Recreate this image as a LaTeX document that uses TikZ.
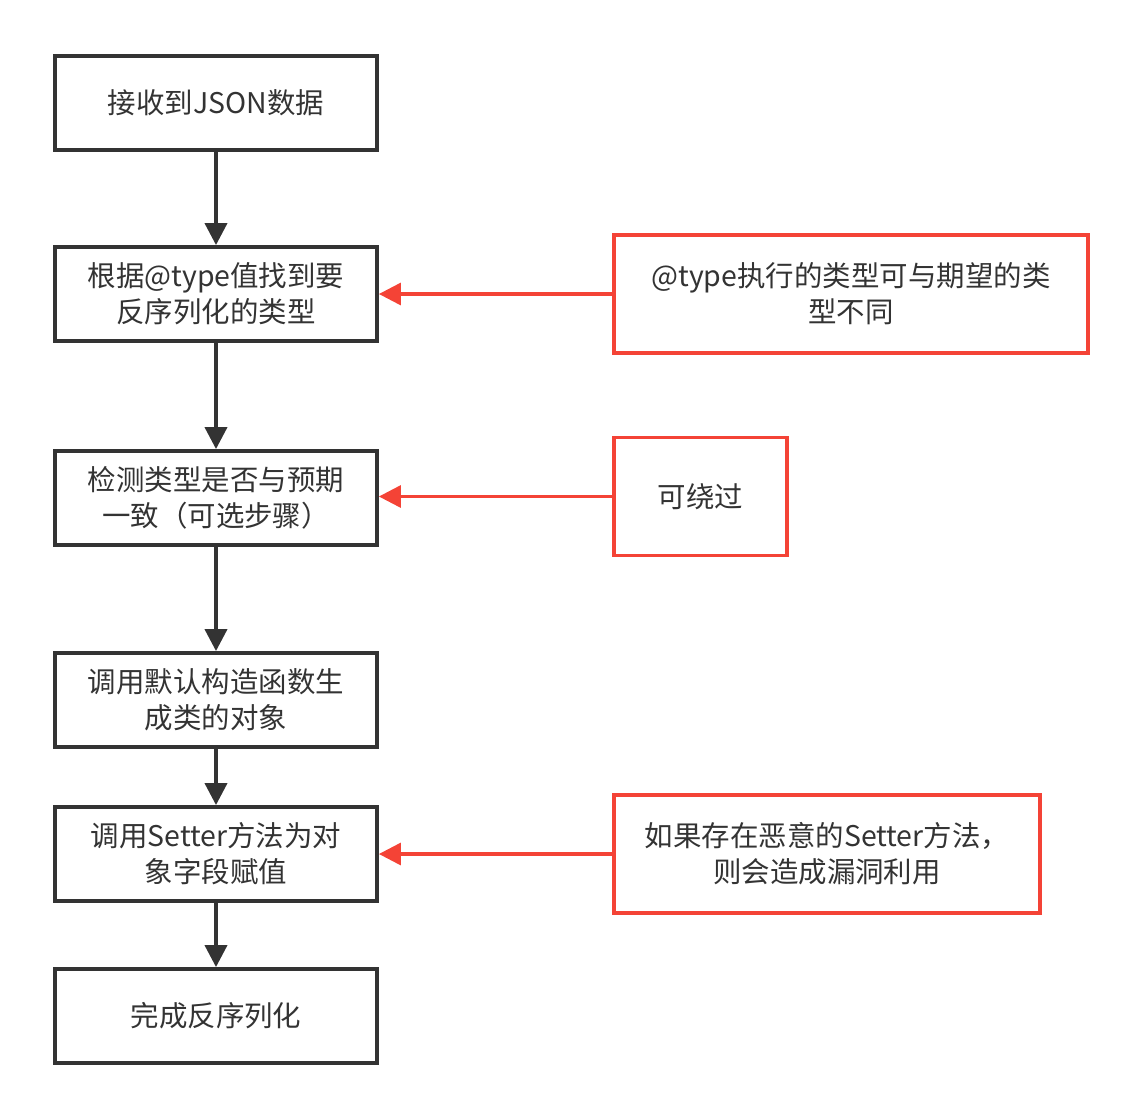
\documentclass[tikz,border=0pt]{standalone}
\usepackage{fontspec}
\setmainfont{Noto Sans CJK SC}
\usetikzlibrary{arrows.meta}
\definecolor{flowGray}{HTML}{333333}
\definecolor{flowRed}{HTML}{F44336}

\begin{document}
\begin{tikzpicture}[x=0.02cm, y=-0.02cm,
    every node/.style={font=\fontsize{16.2}{20.5}\selectfont, text=flowGray, align=center},
    stepbox/.style={draw=flowGray, line width=2.2pt, minimum width=6.44cm, minimum height=1.88cm, inner sep=0pt},
    notebox/.style={draw=flowRed, line width=1.8pt, minimum height=2.36cm, inner sep=0pt},
    flow/.style={draw=flowGray, line width=2.2pt, -{Triangle[length=0.44cm, width=0.44cm]}},
    hint/.style={draw=flowRed, line width=1.8pt, -{Triangle[length=0.44cm, width=0.44cm]}}]
            \useasboundingbox (0,0) rectangle (1144,1120);
            % main steps
            \node[stepbox] (recv) at (216,103) {接收到JSON数据};
            \node[stepbox] (lookup) at (216,294) {根据@type值找到要\\反序列化的类型};
            \node[stepbox] (check) at (216,498) {检测类型是否与预期\\一致（可选步骤）};
            \node[stepbox] (ctor) at (216,700) {调用默认构造函数生\\成类的对象};
            \node[stepbox] (setter) at (216,854) {调用Setter方法为对\\象字段赋值};
            \node[stepbox] (done) at (216,1016) {完成反序列化};
            % remarks
            \node[notebox, minimum width=9.48cm] (diff) at (851,294) {@type执行的类型可与期望的类\\型不同};
            \node[notebox, minimum width=3.46cm] (skip) at (700.5,496.5) {可绕过};
            \node[notebox, minimum width=8.52cm] (evil) at (827,854) {如果存在恶意的Setter方法，\\则会造成漏洞利用};
            \draw[flow] (recv) -- (lookup);
            \draw[flow] (lookup) -- (check);
            \draw[flow] (check) -- (ctor);
            \draw[flow] (ctor) -- (setter);
            \draw[flow] (setter) -- (done);
            \draw[hint] (diff.west) -- (lookup.east);
            \draw[hint] (skip.west) -- (check.east |- skip.west);
            \draw[hint] (evil.west) -- (setter.east);
        \end{tikzpicture}
\end{document}
